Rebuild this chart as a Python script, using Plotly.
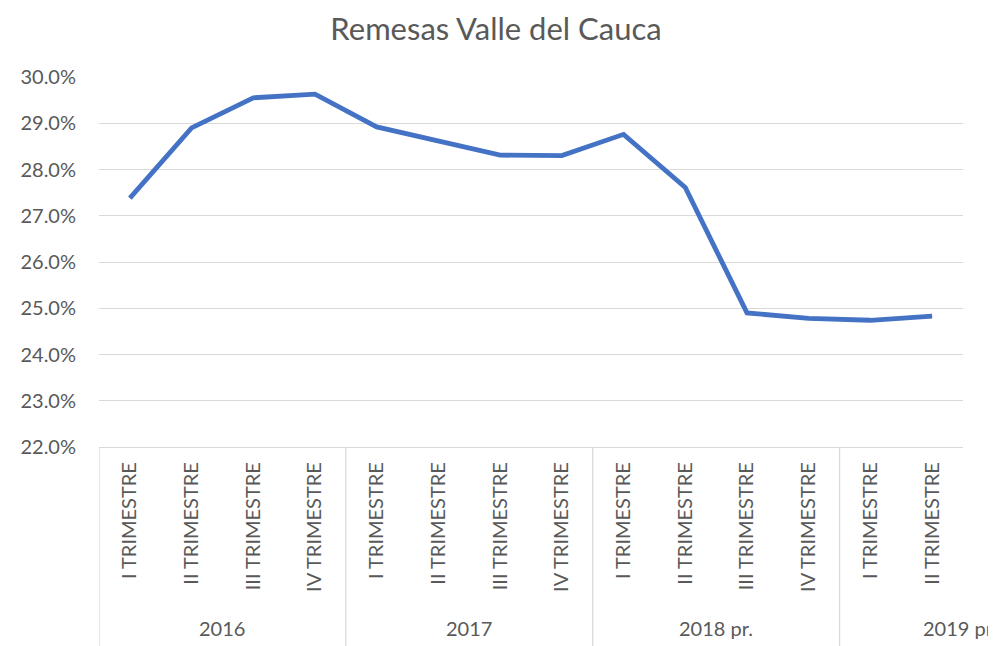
import plotly.graph_objects as go

quarters = ["I TRIMESTRE", "II TRIMESTRE", "III TRIMESTRE", "IV TRIMESTRE",
            "I TRIMESTRE", "II TRIMESTRE", "III TRIMESTRE", "IV TRIMESTRE",
            "I TRIMESTRE", "II TRIMESTRE", "III TRIMESTRE", "IV TRIMESTRE",
            "I TRIMESTRE", "II TRIMESTRE"]
years = ["2016", "2017", "2018 pr.", "2019 pr."]
year_sizes = [4, 4, 4, 2]
remesas = [0.2738, 0.2890, 0.2955, 0.2963, 0.2892, 0.2861, 0.2831, 0.2830,
           0.2876, 0.2761, 0.2490, 0.2478, 0.2474, 0.2483]
y_ticks = [0.22, 0.23, 0.24, 0.25, 0.26, 0.27, 0.28, 0.29, 0.30]

FONT = "Lato"
GREY = "#595959"
GRID = "#d9d9d9"

idx = list(range(len(quarters)))

fig = go.Figure()
fig.add_trace(go.Scatter(
    x=idx, y=remesas, mode="lines",
    line=dict(color="#4472C4", width=4.8),
    hoverinfo="y"
))

# group dividers and year labels below the axis
shapes = []
annotations = []
start = 0
for i, (yr, n) in enumerate(zip(years, year_sizes)):
    shapes.append(dict(type="line", xref="x", yref="paper",
                       x0=start - 0.5, x1=start - 0.5, y0=0, y1=-0.56,
                       line=dict(color=GRID, width=1.3)))
    cx = start + (n - 1) / 2
    if i == len(years) - 1:
        cx = start + 1.45  # Excel pushes the last (cut-off) label to the right
    annotations.append(dict(text=yr, x=cx, xref="x", y=-0.49, yref="paper",
                            showarrow=False, xanchor="center", yanchor="middle",
                            font=dict(family=FONT, size=20, color=GREY)))
    start += n

# the page body has an 8px margin, so the margins are shifted to compensate
fig.update_layout(
    width=996, height=646,
    margin=dict(l=89, r=41, t=69, b=207),
    paper_bgcolor="white", plot_bgcolor="white",
    showlegend=False,
    title=dict(text="Remesas Valle del Cauca", x=0.49, xanchor="center",
               y=0.9675, yanchor="middle",
               font=dict(family=FONT, size=31, color=GREY)),
    shapes=shapes,
    annotations=annotations,
    xaxis=dict(
        range=[-0.5, len(quarters) - 0.5],
        tickvals=idx, ticktext=quarters, tickangle=-90,
        showgrid=False, zeroline=False,
        showline=True, linecolor=GRID, linewidth=1.3,
        ticks="", ticklabelstandoff=6,
        tickfont=dict(family=FONT, size=20, color=GREY),
    ),
    yaxis=dict(
        range=[0.22, 0.30],
        tickvals=y_ticks, tickformat=".1%",
        showgrid=True, gridcolor=GRID, gridwidth=1.3,
        zeroline=False, showline=False,
        ticks="", ticklabelstandoff=22,
        tickfont=dict(family=FONT, size=20, color=GREY),
    ),
)

fig.write_html("out.html")
